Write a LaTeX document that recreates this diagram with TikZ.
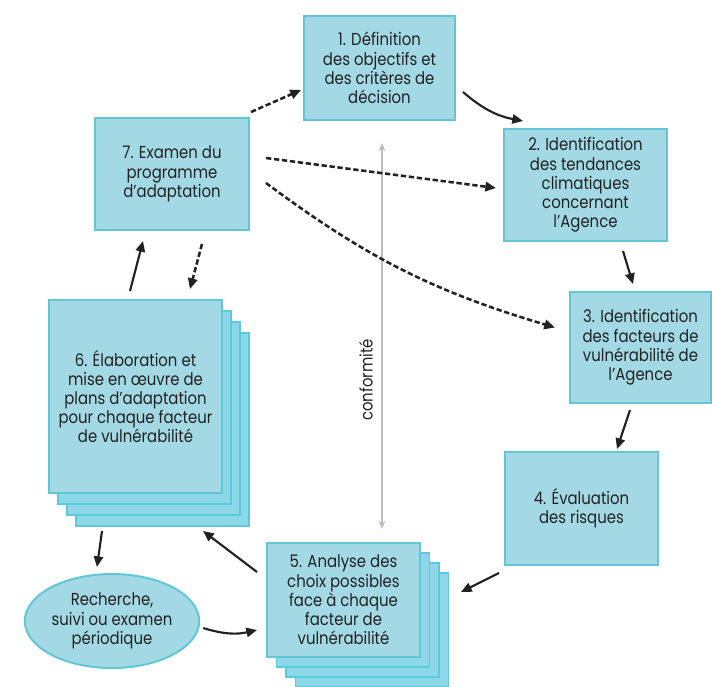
\documentclass[tikz,border=0pt]{standalone}
\usepackage{fontspec}
\setmainfont{Poppins}[FakeStretch=0.86]
\usetikzlibrary{arrows.meta,calc,shapes.geometric}
\definecolor{boxfill}{HTML}{A3D9E4}
\definecolor{boxedge}{HTML}{62C6D6}
\definecolor{layerfill}{HTML}{8CD8E8}
\definecolor{layeredge}{HTML}{5ACADC}
\definecolor{ink}{HTML}{222222}
\definecolor{guide}{HTML}{BDBDBD}
\begin{document}
\begin{tikzpicture}[x=0.75pt,y=-0.75pt,
  every node/.style={font=\fontsize{13}{14.4}\selectfont, text=ink},
  box/.style={rectangle, fill=boxfill, draw=boxedge, line width=1.5pt, align=center, inner sep=2pt},
  layer/.style={rectangle, fill=layerfill, draw=layeredge, line width=1.2pt},
  oval/.style={ellipse, fill=boxfill, draw=boxedge, line width=1.5pt, align=center, inner sep=1pt},
  arr/.style={draw=ink, line width=1.6pt, -{Triangle[length=8pt,width=7pt]}},
  darr/.style={arr, line width=1.9pt, dash pattern=on 4pt off 2pt},
  guideline/.style={draw=guide, line width=0.9pt, {Stealth[length=6pt,width=5pt]}-{Stealth[length=6pt,width=5pt]}},
]
\useasboundingbox (0,0) rectangle (712,686);

% step boxes
\node[box, minimum width=113.25pt, minimum height=78pt] (b1) at (379.5,68) {1. Définition\\des objectifs et\\des critères de\\décision};
\node[box, minimum width=122.25pt, minimum height=84pt] (b2) at (585.5,185) {2. Identification\\des tendances\\climatiques\\concernant\\l’Agence};
\node[box, minimum width=105.75pt, minimum height=83.25pt] (b3) at (640.5,347.5) {3. Identification\\des facteurs de\\vulnérabilité de\\l’Agence};
\node[box, minimum width=114.75pt, minimum height=84.75pt] (b4) at (581.5,508.5) {4. Évaluation\\des risques};

% step 5: stacked sheets
\node[layer, minimum width=114.75pt, minimum height=85.5pt] (b5c) at (372,630) {};
\node[layer, minimum width=114.75pt, minimum height=85.5pt] (b5b) at (362.5,620) {};
\node[layer, minimum width=114.75pt, minimum height=85.5pt] (b5a) at (353,610) {};
\node[box, minimum width=114.75pt, minimum height=85.5pt] (b5) at (343.5,600) {5. Analyse des\\choix possibles\\face à chaque\\facteur de\\vulnérabilité};

% step 6: stacked sheets
\node[layer, minimum width=129.75pt, minimum height=144.75pt] (b6c) at (162.5,429.5) {};
\node[layer, minimum width=129.75pt, minimum height=144.75pt] (b6b) at (153.5,418.5) {};
\node[layer, minimum width=129.75pt, minimum height=144.75pt] (b6a) at (144.5,407.5) {};
\node[box, minimum width=129.75pt, minimum height=144.75pt] (b6) at (135.5,396.5) {6. Élaboration et\\mise en œuvre de\\plans d’adaptation\\pour chaque facteur\\de vulnérabilité};

\node[box, minimum width=115.5pt, minimum height=84pt] (b7) at (172,174) {7. Examen du\\programme\\d’adaptation};

\node[oval, minimum width=123pt, minimum height=70.5pt] (rech) at (112,621) {Recherche,\\suivi ou examen\\périodique};

% compliance check between steps 1 and 5
\draw[guideline] ($(b1.south)+(2.5,22)$) -- ($(b5.north)+(38.5,-13)$);
\node[rotate=90] (conf) at (366,380) {conformité};

% main cycle
\draw[arr] ($(b1.east)+(7,24)$) to[bend right=15] ($(b2.north)+(-62.5,-7)$);
\draw[arr] ($(b2.south)+(37.5,9)$) -- ($(b3.north)+(-7.5,-7)$);
\draw[arr] ($(b3.south)+(-10.5,6)$) -- ($(b4.north)+(35.5,-2)$);
\draw[arr] ($(b4.south west)+(-5,7)$) -- ($(b5.east)+(40,-8)$);
\draw[arr] ($(b5.west)+(-9,-28)$) -- ($(b6.south east)+(-20,37)$);
\draw[arr] ($(b6.south)+(-33.5,37)$) -- ($(rech.north)+(-15,-6)$);
\draw[arr] ($(rech.east)+(3,7)$) to[bend right=15] ($(b5.west)+(-9,30)$);
\draw[arr] ($(b6.north)+(-5.5,-8)$) -- ($(b7.south)+(-29,10)$);

% review feedback
\draw[darr] ($(b7.south)+(30,13)$) -- ($(b6.north)+(54.5,-10)$);
\draw[darr] ($(b7.north east)+(1,-5)$) -- ($(b1.west)+(-2,22)$);
\draw[darr] ($(b7.east)+(16,-16)$) -- ($(b2.west)+(-7,3)$);
\draw[darr] ($(b7.east)+(16,9)$) to[bend right=10] ($(b3.west)+(-14,-20)$);
\end{tikzpicture}
\end{document}
